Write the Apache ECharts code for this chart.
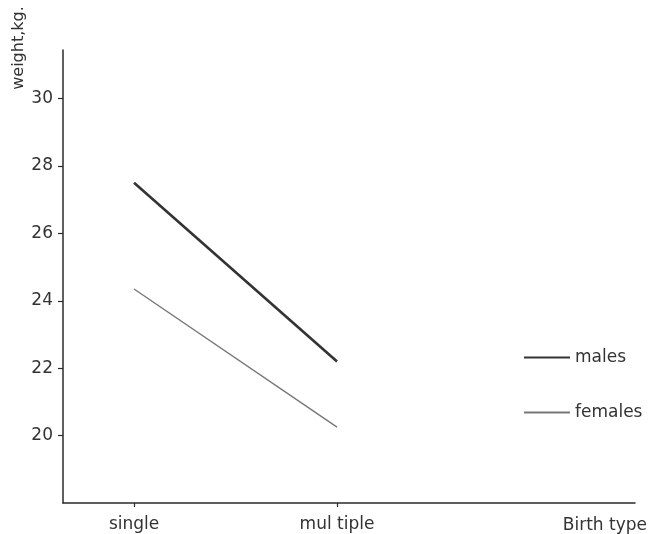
<!DOCTYPE html>
<html>
<head>
<meta charset="utf-8">
<script src="https://cdn.jsdelivr.net/npm/echarts@6/dist/echarts.min.js"></script>
<style>
  html, body { margin: 0; padding: 0; background: #fff; }
  #chart { width: 657px; height: 534px; }
</style>
</head>
<body>
<div id="chart"></div>
<script>
// Birth type categories, placed at positions 1 and 2 on the x scale
const categories = ['single', 'mul tiple'];
const categoryPos = [1, 2];

// Mean weight (kg) by birth type
const males = [27.5, 22.2];
const females = [24.35, 20.25];

// Weight axis tick labels
const yTicks = [20, 22, 24, 26, 28, 30];

const toPoints = vals => vals.map((v, i) => [categoryPos[i], v]);

const font = '"DejaVu Sans", sans-serif';
const ink = '#2a2a2a';

const chart = echarts.init(document.getElementById('chart'));
chart.setOption({
  backgroundColor: '#fff',
  animation: false,
  grid: { left: 63, right: 22, top: 50, bottom: 31 },
  xAxis: {
    type: 'value',
    min: 0.65,
    max: 3.468,
    splitLine: { show: false },
    axisLine: { lineStyle: { color: ink, width: 1.5 } },
    axisTick: { customValues: categoryPos, length: 4, lineStyle: { color: ink, width: 1.2 } },
    axisLabel: {
      customValues: categoryPos,
      margin: 13,
      color: '#333',
      fontFamily: font,
      fontSize: 17,
      formatter: v => categories[categoryPos.indexOf(v)] || ''
    },
    name: 'Birth type',
    nameLocation: 'end',
    nameGap: 12,
    nameTextStyle: {
      align: 'right',
      verticalAlign: 'top',
      padding: [14, 0, 0, 0],
      color: '#333',
      fontFamily: font,
      fontSize: 17
    }
  },
  yAxis: {
    type: 'value',
    min: 18,
    max: 31.44,
    splitLine: { show: false },
    axisLine: { show: true, lineStyle: { color: ink, width: 1.5 } },
    axisTick: { show: true, customValues: yTicks, length: 5, lineStyle: { color: ink, width: 1.2 } },
    axisLabel: {
      customValues: yTicks,
      margin: 10,
      color: '#333',
      fontFamily: font,
      fontSize: 17
    }
  },
  legend: {
    orient: 'vertical',
    left: 518,
    top: 344,
    itemWidth: 46,
    itemHeight: 16,
    itemGap: 38,
    itemStyle: { opacity: 0 },
    textStyle: { color: '#333', fontFamily: font, fontSize: 17 },
    data: ['males', 'females']
  },
  graphic: [{
    type: 'text',
    x: 19,
    y: 48,
    rotation: Math.PI / 2,
    style: {
      text: 'weight,kg.',
      align: 'center',
      verticalAlign: 'middle',
      fill: '#333',
      font: '16px "DejaVu Sans", sans-serif'
    }
  }],
  series: [
    {
      name: 'males',
      type: 'line',
      symbol: 'none',
      data: toPoints(males),
      lineStyle: { color: '#333', width: 2.6 },
      itemStyle: { color: '#333' }
    },
    {
      name: 'females',
      type: 'line',
      symbol: 'none',
      data: toPoints(females),
      lineStyle: { color: '#777', width: 1.4 },
      itemStyle: { color: '#777' }
    }
  ]
});
</script>
</body>
</html>
